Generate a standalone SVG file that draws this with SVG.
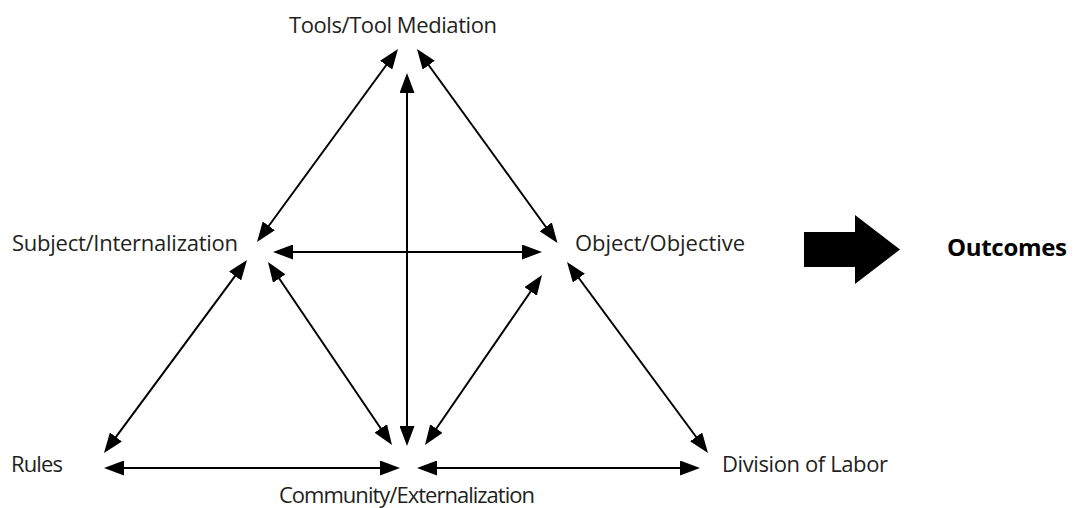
<svg xmlns="http://www.w3.org/2000/svg" width="1076" height="508" viewBox="0 0 1076 508">
  <style>
    .lbl { font-family: "Open Sans", "Noto Sans", sans-serif; font-size: 22px; fill: #231f20; }
    .bold { font-weight: bold; font-size: 24px; fill: #000; }
    .conn { stroke: #000; stroke-width: 2; fill: none; marker-start: url(#ah); marker-end: url(#ah); }
  </style>
  <defs>
    <marker id="ah" markerUnits="userSpaceOnUse" viewBox="0 0 20 15" refX="16" refY="7.5" markerWidth="20" markerHeight="15" orient="auto-start-reverse">
      <path d="M0,0 L20,7.5 L0,15 z" fill="#000"/>
    </marker>
  </defs>
  <rect width="1076" height="508" fill="#fff"/>
  <g id="connectors">
    <line class="conn" x1="395.64" y1="52.23" x2="259.36" y2="238.77"/>
    <line class="conn" x1="419.35" y1="52.24" x2="555.15" y2="239.76"/>
    <line class="conn" x1="407" y1="77" x2="407" y2="442"/>
    <line class="conn" x1="277" y1="252" x2="538" y2="252"/>
    <line class="conn" x1="244.62" y1="263.21" x2="106.38" y2="449.79"/>
    <line class="conn" x1="270.24" y1="265.31" x2="389.76" y2="441.69"/>
    <line class="conn" x1="539.73" y1="278.29" x2="427.27" y2="441.71"/>
    <line class="conn" x1="569.38" y1="265.22" x2="705.62" y2="449.78"/>
    <line class="conn" x1="108" y1="468" x2="396" y2="468"/>
    <line class="conn" x1="421" y1="468" x2="696" y2="468"/>
  </g>
  <g id="tools"><text class="lbl" x="289" y="33" textLength="208">Tools/Tool Mediation</text></g>
  <g id="subject"><text class="lbl" x="12" y="251" textLength="226">Subject/Internalization</text></g>
  <g id="object"><text class="lbl" x="575" y="251" textLength="170">Object/Objective</text></g>
  <g id="rules"><text class="lbl" x="11" y="472" textLength="52">Rules</text></g>
  <g id="community"><text class="lbl" x="407" y="503" text-anchor="middle" textLength="256">Community/Externalization</text></g>
  <g id="division"><text class="lbl" x="722" y="472" textLength="166">Division of Labor</text></g>
  <g id="outcome-arrow"><polygon points="804,232 855,232 855,215 900,249.5 855,284 855,267 804,267" fill="#000"/></g>
  <g id="outcomes"><text class="lbl bold" x="947" y="256" textLength="120">Outcomes</text></g>
</svg>
